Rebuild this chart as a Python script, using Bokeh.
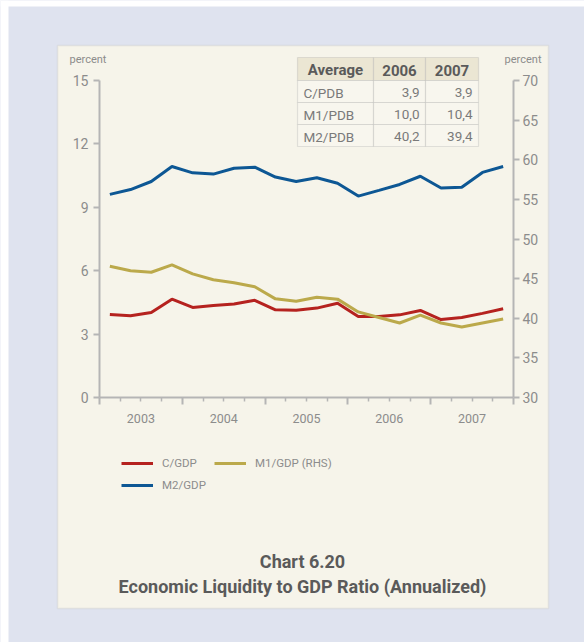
from bokeh.plotting import figure
from bokeh.models import (Range1d, LinearAxis, FixedTicker, BoxAnnotation, Label,
                          Legend, LegendItem)
from bokeh.embed import file_html
from bokeh.resources import INLINE

# ---------------- data ----------------
quarters = ["2003Q1", "2003Q2", "2003Q3", "2003Q4",
            "2004Q1", "2004Q2", "2004Q3", "2004Q4",
            "2005Q1", "2005Q2", "2005Q3", "2005Q4",
            "2006Q1", "2006Q2", "2006Q3", "2006Q4",
            "2007Q1", "2007Q2", "2007Q3", "2007Q4"]
c_gdp = [3.93, 3.87, 4.02, 4.65, 4.26, 4.35, 4.42, 4.60, 4.15, 4.13,
         4.23, 4.46, 3.83, 3.83, 3.91, 4.12, 3.69, 3.79, 3.98, 4.20]
m2_gdp = [9.61, 9.84, 10.22, 10.93, 10.63, 10.57, 10.85, 10.90, 10.43, 10.22,
          10.40, 10.14, 9.53, 9.80, 10.08, 10.47, 9.91, 9.95, 10.65, 10.93]
m1_gdp_rhs = [46.57, 46.00, 45.80, 46.74, 45.60, 44.85, 44.47, 43.97, 42.45, 42.15,
              42.66, 42.41, 40.80, 40.10, 39.40, 40.40, 39.40, 38.90, 39.40, 39.90]
year_labels = ["2003", "2004", "2005", "2006", "2007"]
left_ticks = [0, 3, 6, 9, 12, 15]
right_ticks = [30, 35, 40, 45, 50, 55, 60, 65, 70]

table_header = ["Average", "2006", "2007"]
table_rows = [["C/PDB", "3,9", "3,9"],
              ["M1/PDB", "10,0", "10,4"],
              ["M2/PDB", "40,2", "39,4"]]

# ---------------- styling ----------------
FONT = "Roboto"
LAV = "#dfe3ef"
CREAM = "#f6f4ea"
AXIS = "#b5b5b5"
TXT = "#8c8c8c"
DARK = "#5a5a5a"
RED = "#b5221f"
BLUE = "#0d5794"
OLIVE = "#bba94b"

qx = [int(q[:4]) + (int(q[5]) - 0.5) / 4.0 for q in quarters]

W, H = 584, 642
FL, FR, FT, FB = 99, 513, 80, 397  # plot area in picture px


def X(px):
    return 2003 + (px - FL) * 5.0 / (FR - FL)


def Y(py):
    return (FB - py) * 15.0 / (FB - FT)


def R(py):
    return 30 + (FB - py) * 40.0 / (FB - FT)


p = figure(width=W, height=H, output_backend="svg", toolbar_location=None,
           x_axis_location=None, y_axis_location=None,
           x_range=Range1d(X(0), X(W)), y_range=Range1d(Y(H), Y(0)),
           min_border=0)
p.title.visible = False
p.extra_y_ranges = {"rhs": Range1d(R(H), R(0))}
p.border_fill_color = LAV
p.background_fill_color = LAV
p.outline_line_color = None
p.grid.visible = False

# white page strips, cream panel
for (l, r, t, b) in [(0, W, 0, 6), (0, 8, 0, H)]:
    p.add_layout(BoxAnnotation(left=X(l), right=X(r), top=Y(t), bottom=Y(b),
                               fill_color="white", fill_alpha=1, line_color=None,
                               level="underlay"))
PL, PR, PT, PB = 57, 548, 45, 608
p.add_layout(BoxAnnotation(left=X(PL), right=X(PR), top=Y(PT), bottom=Y(PB),
                           fill_color=CREAM, fill_alpha=1, line_color="#c2c2c2",
                           line_width=1.5, level="underlay"))


# axes
def style_axis(ax, size="14px"):
    ax.axis_line_color = AXIS
    ax.axis_line_width = 2
    ax.major_tick_line_color = AXIS
    ax.major_tick_line_width = 2
    ax.major_tick_in = 0
    ax.major_tick_out = 6
    ax.minor_tick_line_color = None
    ax.major_label_text_font = FONT
    ax.major_label_text_font_size = size
    ax.major_label_text_color = TXT


year_bounds = [int(y) for y in year_labels] + [int(year_labels[-1]) + 1]

yl = LinearAxis(ticker=FixedTicker(ticks=left_ticks), fixed_location=year_bounds[0],
                bounds=(left_ticks[0], left_ticks[-1]))
style_axis(yl)
yl.major_label_standoff = 5
p.add_layout(yl, "left")

yr = LinearAxis(y_range_name="rhs", ticker=FixedTicker(ticks=right_ticks),
                fixed_location=year_bounds[-1], bounds=(right_ticks[0], right_ticks[-1]))
style_axis(yr)
yr.major_label_standoff = 3
p.add_layout(yr, "right")

quarter_ticks = [y + q / 4.0 for y in year_bounds[:-1] for q in (1, 2, 3)]
xa = LinearAxis(ticker=FixedTicker(ticks=year_bounds, minor_ticks=quarter_ticks),
                fixed_location=left_ticks[0], bounds=(year_bounds[0], year_bounds[-1]))
style_axis(xa)
xa.major_tick_out = 7
xa.minor_tick_line_color = AXIS
xa.minor_tick_line_width = 1.5
xa.minor_tick_in = 0
xa.minor_tick_out = 4
xa.major_label_overrides = {y: "" for y in year_bounds}
p.add_layout(xa, "below")

mid_years = [int(y) + 0.5 for y in year_labels]
xb = LinearAxis(ticker=FixedTicker(ticks=mid_years), fixed_location=left_ticks[0])
style_axis(xb, "12.5px")
xb.axis_line_color = None
xb.major_tick_line_color = None
xb.major_tick_out = 0
xb.major_label_standoff = 16
xb.major_label_overrides = {m: lab for m, lab in zip(mid_years, year_labels)}
p.add_layout(xb, "below")

# lines
r_c = p.line(qx, c_gdp, line_color=RED, line_width=3)
r_m1 = p.line(qx, m1_gdp_rhs, line_color=OLIVE, line_width=3, y_range_name="rhs")
r_m2 = p.line(qx, m2_gdp, line_color=BLUE, line_width=3)

# legend (filled column by column: C/GDP, M2/GDP | M1/GDP (RHS))
leg = Legend(items=[LegendItem(label="C/GDP", renderers=[r_c]),
                    LegendItem(label="M2/GDP", renderers=[r_m2]),
                    LegendItem(label="M1/GDP (RHS)", renderers=[r_m1])],
             ncols=2, location=(121, H - 492),
             background_fill_alpha=0, border_line_color=None,
             padding=0, margin=0, spacing=8, glyph_width=32, glyph_height=14,
             label_standoff=9, label_text_font=FONT, label_text_font_size="11.5px",
             label_text_color=TXT)
p.add_layout(leg, "center")


def lab(px, py, text, align="left", size="12px", color=TXT, style="normal"):
    p.add_layout(Label(x=X(px), y=Y(py), text=text, text_align=align,
                       text_baseline="middle", text_font=FONT,
                       text_font_size=size, text_color=color,
                       text_font_style=style))


lab(69, 59, "percent", size="11px")
lab(541, 59, "percent", align="right", size="11px")

# table
col_edges = [297, 373, 425, 478]
row_edges = [57, 80, 102, 124, 146]
for i in range(3):
    p.add_layout(BoxAnnotation(left=X(col_edges[i]), right=X(col_edges[i + 1]),
                               top=Y(row_edges[0]), bottom=Y(row_edges[1]),
                               fill_color="#ebe6d3", fill_alpha=1,
                               line_color="#a9a9a9", line_width=1.2))
    for r in range(3):
        p.add_layout(BoxAnnotation(left=X(col_edges[i]), right=X(col_edges[i + 1]),
                                   top=Y(row_edges[r + 1]), bottom=Y(row_edges[r + 2]),
                                   fill_color="#f8f6ee", fill_alpha=1,
                                   line_color="#a9a9a9", line_width=1.2))
for i, h in enumerate(table_header):
    lab((col_edges[i] + col_edges[i + 1]) / 2, (row_edges[0] + row_edges[1]) / 2 + 1, h,
        align="center", size="15px", color=DARK, style="bold")
for r, row in enumerate(table_rows):
    yc = (row_edges[r + 1] + row_edges[r + 2]) / 2 + 1
    lab(col_edges[0] + 6, yc, row[0], size="13.5px", color="#7a7a7a")
    lab(col_edges[2] - 6, yc, row[1], align="right", size="13.5px", color="#7a7a7a")
    lab(col_edges[3] - 6, yc, row[2], align="right", size="13.5px", color="#7a7a7a")

# title
lab(302, 561, "Chart 6.20", align="center", size="18px", color=DARK, style="bold")
lab(302, 586, "Economic Liquidity to GDP Ratio (Annualized)", align="center",
    size="18px", color=DARK, style="bold")

open("out.html", "w").write(file_html(p, INLINE))
